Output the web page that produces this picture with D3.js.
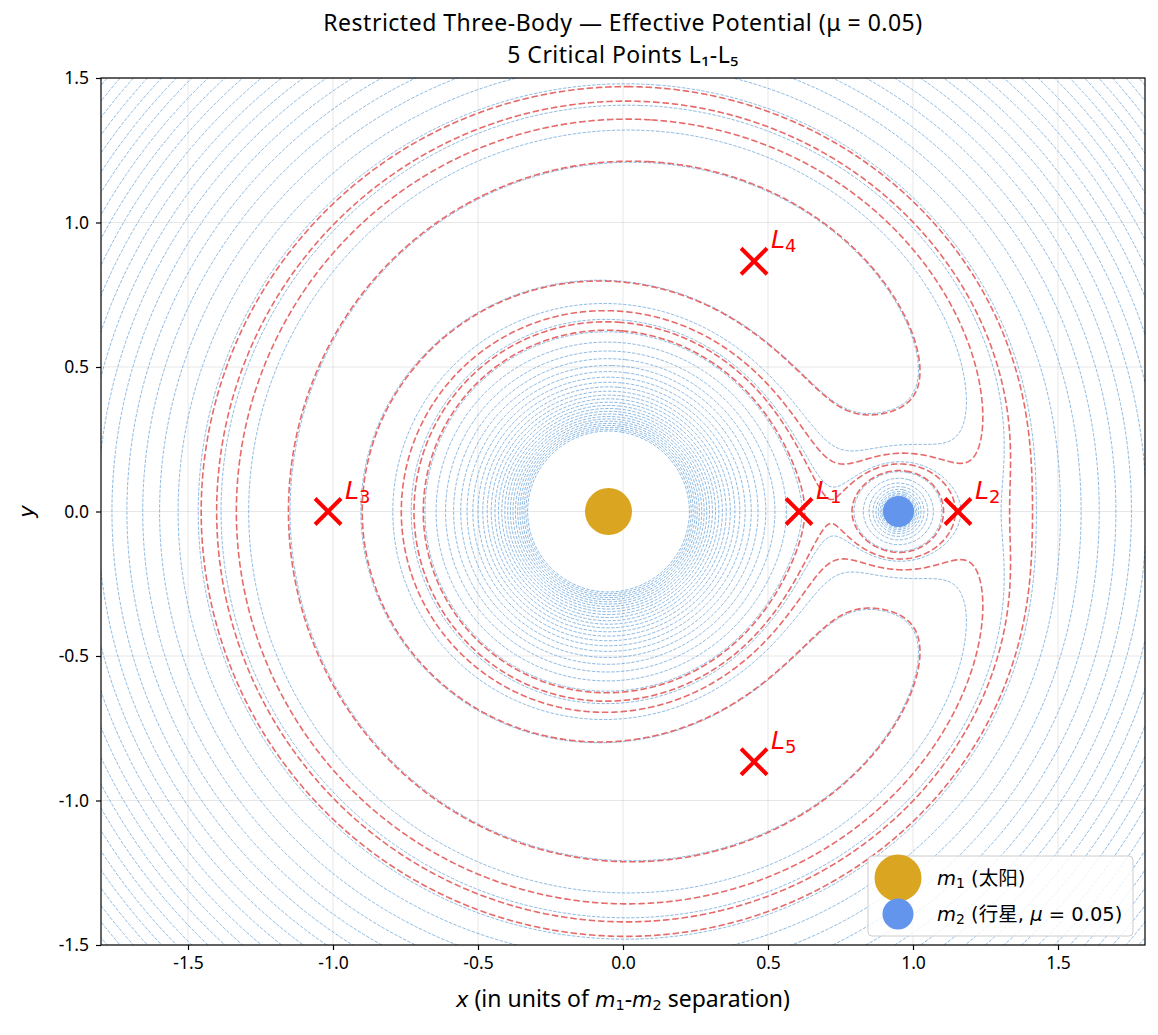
<!DOCTYPE html>
<html>
<head>
<meta charset="utf-8">
<script src="https://cdn.jsdelivr.net/npm/d3@7"></script>
<style>
  body { margin: 0; background: #fff; }
  text { font-family: "Noto Sans", "Noto Sans CJK SC", sans-serif; }
  .math { font-family: "DejaVu Sans", "Noto Sans CJK SC", sans-serif; }
</style>
</head>
<body>
<svg id="chart" width="1158" height="1035"></svg>
<script>
// mass ratio and body positions (rotating frame)
var mu = 0.05;
var bodyNames = ["m1", "m2"];
var bodyX = [-0.05, 0.95];
var bodyY = [0, 0];
var bodyColors = ["#DAA520", "#6495ED"];
var bodyRadius = [23.5, 15.5];

// critical points as marked on the chart
var lagrangeNames = ["1", "2", "3", "4", "5"];
var lagrangeX = [0.607, 1.155, -1.017, 0.452, 0.452];
var lagrangeY = [0, 0, 0, 0.866, -0.866];

// contour levels of the effective potential
var blueLevels = [1.476, 1.548, 1.621, 1.693, 1.765, 1.837, 1.910, 1.982, 2.054, 2.126,
                  2.199, 2.271, 2.343, 2.416, 2.488, 2.560, 2.632, 2.705, 2.777, 2.849,
                  2.921, 2.994, 3.066, 3.138, 3.211, 3.283, 3.355, 3.428, 3.500];
var redLevels = [1.550, 1.651, 1.706, 1.755];

var xTicks = [-1.5, -1.0, -0.5, 0.0, 0.5, 1.0, 1.5];
var yTicks = [-1.5, -1.0, -0.5, 0.0, 0.5, 1.0, 1.5];

var margin = {top: 78, right: 13, bottom: 90, left: 101},
    width = 1158 - margin.left - margin.right,
    height = 1035 - margin.top - margin.bottom;

var svg = d3.select("#chart");
var g = svg.append("g").attr("transform", "translate(" + margin.left + "," + margin.top + ")");

var xs = d3.scaleLinear().domain([-1.8, 1.8]).range([0, width]);
var ys = d3.scaleLinear().domain([-1.5, 1.5]).range([height, 0]);

svg.append("defs").append("clipPath").attr("id", "clip")
  .append("rect").attr("width", width).attr("height", height);

// grid
g.append("g").selectAll("line").data(xTicks).enter().append("line")
  .attr("x1", d => xs(d)).attr("x2", d => xs(d)).attr("y1", 0).attr("y2", height)
  .attr("stroke", "#b0b0b0").attr("stroke-opacity", 0.3).attr("stroke-width", 1);
g.append("g").selectAll("line").data(yTicks).enter().append("line")
  .attr("y1", d => ys(d)).attr("y2", d => ys(d)).attr("x1", 0).attr("x2", width)
  .attr("stroke", "#b0b0b0").attr("stroke-opacity", 0.3).attr("stroke-width", 1);

// sample the effective potential on a grid a little larger than the view
var step = 0.005, gx0 = -1.85, gy0 = -1.55;
var nx = 741, ny = 621;
var values = new Float64Array(nx * ny);
for (var j = 0; j < ny; j++) {
  var y = gy0 + j * step;
  for (var i = 0; i < nx; i++) {
    var x = gx0 + i * step;
    var r1 = Math.hypot(x - bodyX[0], y - bodyY[0]);
    var r2 = Math.hypot(x - bodyX[1], y - bodyY[1]);
    var v = 0.5 * (x * x + y * y) + (1 - mu) / r1 + mu / r2;
    values[j * nx + i] = Math.min(v, 50);
  }
}

var proj = d3.geoTransform({
  point: function(px, py) {
    this.stream.point(xs(gx0 + (px - 0.5) * step), ys(gy0 + (py - 0.5) * step));
  }
});
var path = d3.geoPath(proj);

var plot = g.append("g").attr("clip-path", "url(#clip)");

plot.append("g").selectAll("path")
  .data(d3.contours().size([nx, ny]).thresholds(blueLevels)(values))
  .enter().append("path")
  .attr("d", path)
  .attr("fill", "none")
  .attr("stroke", "#5b9bd5")
  .attr("stroke-opacity", 0.85)
  .attr("stroke-width", 0.85)
  .attr("stroke-dasharray", "3.4,1.5");

plot.append("g").selectAll("path")
  .data(d3.contours().size([nx, ny]).thresholds(redLevels)(values))
  .enter().append("path")
  .attr("d", path)
  .attr("fill", "none")
  .attr("stroke", "#e35a5a")
  .attr("stroke-opacity", 0.9)
  .attr("stroke-width", 1.6)
  .attr("stroke-dasharray", "6.5,2.8");

// bodies
plot.append("g").selectAll("circle").data(bodyX).enter().append("circle")
  .attr("cx", d => xs(d)).attr("cy", (d, i) => ys(bodyY[i]))
  .attr("r", (d, i) => bodyRadius[i]).attr("fill", (d, i) => bodyColors[i]);

// critical points
var lp = plot.append("g").selectAll("g").data(lagrangeX).enter().append("g")
  .attr("transform", (d, i) => "translate(" + xs(d) + "," + ys(lagrangeY[i]) + ")");
lp.append("path").attr("d", "M-13,-13L13,13M-13,13L13,-13")
  .attr("stroke", "red").attr("stroke-width", 4);
var lt = lp.append("text").attr("class", "math").attr("x", 17).attr("y", -13)
  .attr("fill", "red").attr("font-size", 25);
lt.append("tspan").attr("font-style", "italic").text("L");
lt.append("tspan").attr("font-size", 18).attr("dy", 4).text((d, i) => lagrangeNames[i]);

// frame
g.append("rect").attr("width", width).attr("height", height)
  .attr("fill", "none").attr("stroke", "#000").attr("stroke-width", 1.2);

// axes
var fmt = d => d3.format(".1f")(d).replace("\u2212", "-");
var xAxis = g.append("g").attr("transform", "translate(0," + height + ")")
  .call(d3.axisBottom(xs).tickValues(xTicks).tickFormat(fmt).tickSize(5).tickPadding(7));
var yAxis = g.append("g")
  .call(d3.axisLeft(ys).tickValues(yTicks).tickFormat(fmt).tickSize(5).tickPadding(7));
[xAxis, yAxis].forEach(function(a) {
  a.select(".domain").remove();
  a.selectAll("line").attr("stroke", "#000").attr("stroke-width", 1.2);
  a.selectAll("text").attr("font-size", 17.5).attr("fill", "#000")
    .attr("font-family", "\"Noto Sans\", sans-serif");
});

// title
var title = svg.append("text").attr("x", margin.left + width / 2).attr("text-anchor", "middle")
  .attr("font-size", 23).attr("letter-spacing", 0.5);
title.append("tspan").attr("x", margin.left + width / 2).attr("y", 31)
  .text("Restricted Three-Body \u2014 Effective Potential (\u03bc = 0.05)");
title.append("tspan").attr("x", margin.left + width / 2).attr("y", 63)
  .text("5 Critical Points L\u2081-L\u2085");

// axis labels
var xl = svg.append("text").attr("x", margin.left + width / 2).attr("y", 1007)
  .attr("text-anchor", "middle").attr("font-size", 23);
xl.append("tspan").attr("font-style", "italic").attr("class", "math").attr("font-size", 21).text("x");
xl.append("tspan").text(" (in units of ");
xl.append("tspan").attr("font-style", "italic").attr("class", "math").attr("font-size", 21).text("m");
xl.append("tspan").attr("font-size", 14.5).attr("dy", 3).attr("class", "math").text("1");
xl.append("tspan").attr("dy", -3).text("-");
xl.append("tspan").attr("font-style", "italic").attr("class", "math").attr("font-size", 21).text("m");
xl.append("tspan").attr("font-size", 14.5).attr("dy", 3).attr("class", "math").text("2");
xl.append("tspan").attr("dy", -3).text(" separation)");

svg.append("text").attr("class", "math").attr("font-style", "italic").attr("font-size", 21)
  .attr("transform", "translate(34," + (margin.top + height / 2) + ") rotate(-90)")
  .attr("text-anchor", "middle").text("y");

// legend
var lg = svg.append("g").attr("transform", "translate(868,856)");
lg.append("rect").attr("width", 265).attr("height", 80).attr("rx", 4)
  .attr("fill", "#fff").attr("fill-opacity", 0.8).attr("stroke", "#ccc");
var legendRows = [
  {label: "1", rest: " (\u592a\u9633)"},
  {label: "2", rest: " (\u884c\u661f, "}
];
var rowY = [22, 58];
legendRows.forEach(function(r, i) {
  lg.append("circle").attr("cx", 30).attr("cy", rowY[i]).attr("r", bodyRadius[i]).attr("fill", bodyColors[i]);
  var t = lg.append("text").attr("class", "math").attr("x", 69).attr("y", rowY[i] + 7).attr("font-size", 19.5);
  t.append("tspan").attr("font-style", "italic").text("m");
  t.append("tspan").attr("font-size", 14).attr("dy", 3).text(r.label);
  t.append("tspan").attr("dy", -3).text(r.rest);
  if (i === 1) {
    t.append("tspan").attr("font-style", "italic").text("\u03bc");
    t.append("tspan").text(" = " + mu.toFixed(2) + ")");
  }
});
</script>
</body>
</html>
